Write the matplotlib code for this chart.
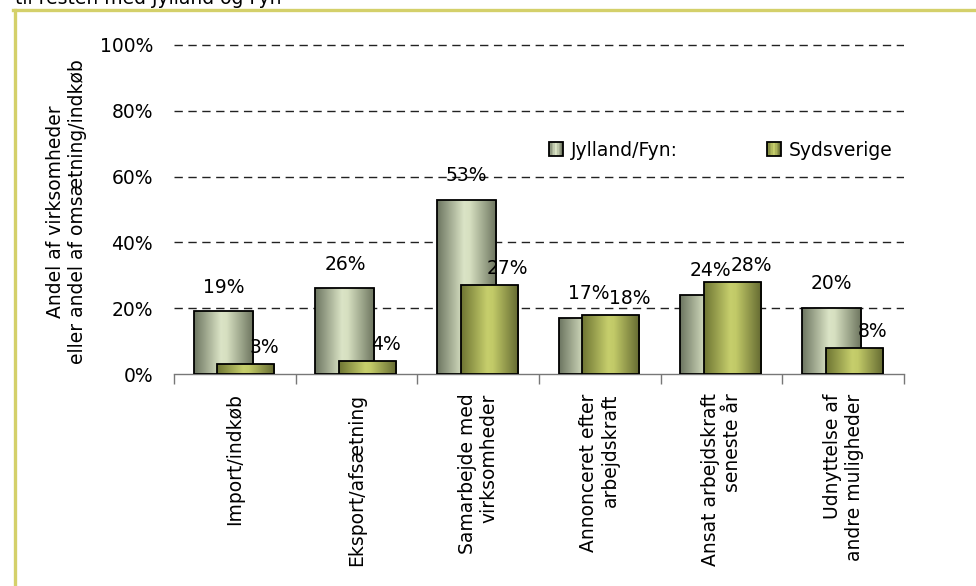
import numpy as np
import matplotlib
matplotlib.use("Agg")
import matplotlib.pyplot as plt
from matplotlib.patches import Rectangle
from matplotlib.colors import LinearSegmentedColormap
from matplotlib.legend_handler import HandlerPatch
from matplotlib.ticker import FuncFormatter

# ---- data ----
categories = ["Import/indkøb", "Eksport/afsætning", "Samarbejde med\nvirksomheder",
              "Annonceret efter\narbejdskraft", "Ansat arbejdskraft\nseneste år",
              "Udnyttelse af\nandre muligheder"]
jylland = [19, 26, 53, 17, 24, 20]
sydsverige = [3, 4, 27, 18, 28, 8]
series_names = ["Jylland/Fyn:", "Sydsverige"]

# gradient colours (left edge -> highlight -> right edge)
cmap_j = LinearSegmentedColormap.from_list(
    "j", [(0, "#6c7560"), (0.45, "#dbe4c6"), (0.55, "#d6dfc0"), (1, "#6a725c")])
cmap_s = LinearSegmentedColormap.from_list(
    "s", [(0, "#6d7432"), (0.45, "#c6ce6c"), (0.55, "#c2ca68"), (1, "#626830")])

plt.rcParams["font.family"] = ["DejaVu Sans"]
FS = 13.5

fig = plt.figure(figsize=(9.76, 5.86), dpi=100)
ax = fig.add_axes([174 / 976, 1 - 374 / 586, 730 / 976, (374 - 38.4) / 586])

x = np.arange(len(categories))
grad = np.linspace(0, 1, 256).reshape(1, -1)


def gradient_bars(xs, vals, width, cmap, z):
    # bar outline plus a clipped horizontal gradient image inside it
    for xc, v in zip(xs, vals):
        h = v / 100
        rect = Rectangle((xc - width / 2, 0), width, h, facecolor="none",
                         edgecolor="black", linewidth=1.3, zorder=z + 0.1)
        ax.add_patch(rect)
        im = ax.imshow(grad, cmap=cmap, aspect="auto", zorder=z,
                       extent=(xc - width / 2, xc + width / 2, 0, h))
        im.set_clip_path(rect)


xj = x - 0.095
xs = x + 0.09
gradient_bars(xj, jylland, 0.485, cmap_j, 3)
gradient_bars(xs, sydsverige, 0.47, cmap_s, 5)

for xc, v in zip(xj, jylland):
    ax.annotate(f"{v}%", (xc, v / 100), xytext=(0, 17.5), textcoords="offset points",
                ha="center", va="center", fontsize=FS, zorder=6)
for xc, v in zip(xs, sydsverige):
    ax.annotate(f"{v}%", (xc, v / 100), xytext=(13.5, 12), textcoords="offset points",
                ha="center", va="center", fontsize=FS, zorder=6)

ax.set_xlim(-0.5, len(categories) - 0.5)
ax.set_ylim(0, 1.02)
ax.set_yticks([0, 0.2, 0.4, 0.6, 0.8, 1.0])
ax.yaxis.set_major_formatter(FuncFormatter(lambda v, p: f"{v:.0%}"))
ax.tick_params(axis="y", length=0, pad=15, labelsize=FS)
for y in [0.2, 0.4, 0.6, 0.8, 1.0]:
    ax.axhline(y, color="#222222", linewidth=1.0, dashes=(6, 4), zorder=1)

ax.set_xticks(x)
ax.set_xticklabels(categories, rotation=90, fontsize=FS, ha="center", va="top",
                   multialignment="right")
ax.set_xticks(np.arange(len(categories) + 1) - 0.5, minor=True)
ax.tick_params(axis="x", which="major", length=0, pad=14)
ax.tick_params(axis="x", which="minor", length=7, width=1, color="#777777", direction="out")

for s in ["top", "right", "left"]:
    ax.spines[s].set_visible(False)
ax.spines["bottom"].set_color("#777777")
ax.spines["bottom"].set_linewidth(1)

fig.text(67 / 976, 1 - 212 / 586, "Andel af virksomheder\neller andel af omsætning/indkøb",
         rotation=90, ha="center", va="center", multialignment="center", fontsize=FS)


class GradHandler(HandlerPatch):
    def __init__(self, cmap):
        super().__init__()
        self.cmap = cmap

    def create_artists(self, legend, orig_handle, xdescent, ydescent, width, height,
                       fontsize, trans):
        side = min(width, height)
        x0 = -xdescent + (width - side) / 2
        y0 = -ydescent + (height - side) / 2
        arts = []
        n = 10
        for k in range(n):
            arts.append(Rectangle((x0 + k * side / n, y0), side / n, side,
                                  facecolor=self.cmap((k + 0.5) / n), edgecolor="none",
                                  transform=trans))
        arts.append(Rectangle((x0, y0), side, side, facecolor="none", edgecolor="black",
                              linewidth=1.3, transform=trans))
        return arts


hj = Rectangle((0, 0), 1, 1)
hs = Rectangle((0, 0), 1, 1)
fig.legend([hj, hs], series_names, loc="center left",
           bbox_to_anchor=(532 / 976, 1 - 150 / 586), ncol=2, frameon=False,
           fontsize=FS, handlelength=0.75, handleheight=0.75, handletextpad=0.4,
           columnspacing=4.77,
           handler_map={hj: GradHandler(cmap_j), hs: GradHandler(cmap_s)})

# frame border and cropped heading
fig.add_artist(plt.Line2D([14.5 / 976, 14.5 / 976], [0, 1 - 9.5 / 586],
                          transform=fig.transFigure, color="#d4d06a", linewidth=2.4))
fig.add_artist(plt.Line2D([13.3 / 976, 1], [1 - 9.5 / 586, 1 - 9.5 / 586],
                          transform=fig.transFigure, color="#d4d06a", linewidth=2.4))
fig.text(15 / 976, 1 - 3.5 / 586, "til resten med Jylland og Fyn", ha="left",
         va="baseline", fontsize=FS)

fig.savefig("out.png", dpi=100)
